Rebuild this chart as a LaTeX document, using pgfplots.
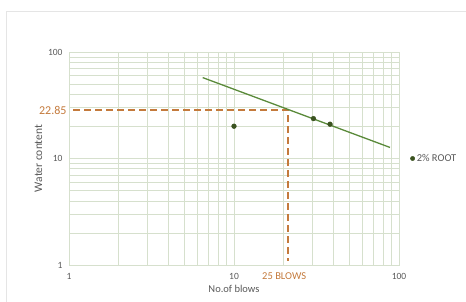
\documentclass[border=0pt]{standalone}
\usepackage{pgfplots}
\pgfplotsset{compat=1.18}
\usepackage{fontspec}
\setmainfont{Carlito}
\definecolor{gridc}{HTML}{D6E0CD}
\definecolor{trendc}{HTML}{5A8A3A}
\definecolor{markc}{HTML}{3B5320}
\definecolor{dashc}{HTML}{C47A3C}
\definecolor{txtc}{HTML}{595959}
\begin{document}
\begin{tikzpicture}[x=1pt,y=1pt]
\path[use as bounding box] (-69,-37) rectangle (397,265);
\draw[black!10, line width=0.8pt] (-63,-37) -- (-63,254) -- (397,254);
\begin{loglogaxis}[
  at={(0,0)}, anchor=south west,
  scale only axis, width=330pt, height=213pt,
  xmin=1, xmax=100, ymin=1, ymax=100,
  xtick={1,10,100}, ytick={1,10,100},
  log ticks with fixed point,
  /pgf/number format/assume math mode=true,
  grid=both,
  major grid style={gridc, line width=0.7pt},
  minor grid style={gridc, line width=0.7pt},
  axis line style={gridc, line width=0.7pt},
  major tick length=0pt, minor tick length=0pt,
  tick label style={font=\fontsize{9.5}{10}\selectfont, text=txtc},
  xticklabel style={yshift=-5pt},
  yticklabel style={xshift=-3pt},
  xlabel={No.of blows},
  ylabel={Water content},
  label style={text=txtc},
  xlabel style={font=\fontsize{10.5}{11}\selectfont, yshift=1pt},
  ylabel style={font=\fontsize{11.5}{12}\selectfont, yshift=-1pt},
  legend style={at={(1.025,0.5)}, anchor=west, draw=none, fill=none,
    font=\fontsize{10.5}{11}\selectfont, text=txtc,
    /tikz/every even column/.append style={column sep=0pt}},
  legend image post style={scale=0.9},
  legend cell align=left,
  clip=false,
]
\addplot[color=dashc, line width=1.8pt, dash pattern=on 7pt off 4pt, forget plot]
  coordinates {(1.06,28.4) (21.3,28.4) (21.3,1.1)};
\addplot[color=trendc, line width=1.3pt, forget plot]
  coordinates {(6.46,57.5) (88.2,12.7)};
\addplot[only marks, mark=*, mark size=2.4pt, mark options={fill=markc, draw=markc}]
  coordinates {(10,20.1) (30.3,23.7) (38.2,21.0)};
\addlegendentry{2\% ROOT}
\node[anchor=east, text=dashc, font=\fontsize{12}{13}\selectfont] at (axis cs:1,28.4) [xshift=1pt] {22.85};
\node[text=dashc, font=\fontsize{10.5}{11}\selectfont] at (axis cs:21.3,1) [yshift=-11pt, xshift=-4pt] {25 BLOWS};
\end{loglogaxis}
\end{tikzpicture}
\end{document}
